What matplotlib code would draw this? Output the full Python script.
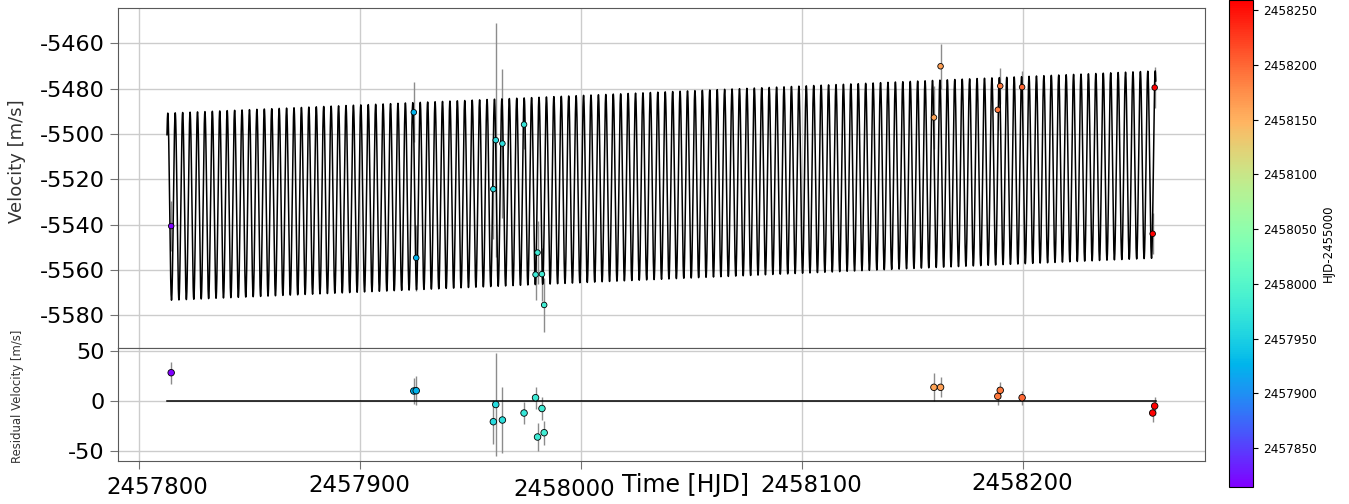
import matplotlib
matplotlib.use("Agg")
import matplotlib.pyplot as plt
import numpy as np
from matplotlib.ticker import FormatStrFormatter
from matplotlib.transforms import ScaledTranslation

plt.rcParams["font.family"] = ["DejaVu Sans"]
plt.rcParams["axes.unicode_minus"] = False

# observations (HJD, RV, error, residual)
hjd = [2457814.4, 2457924.2, 2457925.3, 2457960.2, 2457961.3, 2457964.3,
       2457974.1, 2457979.3, 2457980.2, 2457982.2, 2457983.2, 2458159.6,
       2458162.6, 2458188.5, 2458189.6, 2458199.5, 2458258.6, 2458259.5]
rv = [-5540.6, -5490.4, -5554.6, -5524.3, -5502.7, -5504.2,
      -5495.8, -5562.0, -5552.3, -5561.8, -5575.4, -5492.7,
      -5470.1, -5489.3, -5478.8, -5479.3, -5544.0, -5479.5]
rv_err = [11.0, 13.3, 14.5, 22.0, 51.7, 33.0,
          10.7, 11.0, 14.0, 11.7, 12.0, 14.0,
          10.0, 9.0, 8.0, 7.0, 9.0, 9.0]
resid = [28.3, 10.0, 10.3, -20.7, -3.5, -19.0,
         -12.0, 3.3, -36.0, -7.5, -31.7, 13.7,
         13.7, 4.7, 10.7, 3.3, -12.0, -5.0]

x_ticks = [2457800, 2457900, 2458000, 2458100, 2458200]
cbar_ticks = [2457850, 2457900, 2457950, 2458000, 2458050,
              2458100, 2458150, 2458200, 2458250]

# fitted model: circular orbit + linear trend
T_START, T_END = 2457812.5, 2458260.0
T_PEAK = 2457812.87
PERIOD = 3.36
K_AMP = 41.3
V0 = -5532.1
SLOPE = 0.0417

t_model = np.linspace(T_START, T_END, 12000)
v_model = V0 + SLOPE * (t_model - T_START) + K_AMP * np.cos(2 * np.pi * (t_model - T_PEAK) / PERIOD)

fig = plt.figure(figsize=(13.49, 5.04), dpi=100)
ax1 = fig.add_axes([0.0875, 0.3095, 0.8058, 0.6746])
ax2 = fig.add_axes([0.0875, 0.0853, 0.8058, 0.2242], sharex=ax1)
cax = fig.add_axes([0.911, 0.034, 0.0178, 0.966])

cmap = plt.get_cmap("rainbow")
vmin, vmax = min(hjd), max(hjd)

ax1.errorbar(hjd, rv, yerr=rv_err, fmt="none", ecolor="0.55", elinewidth=1, zorder=1)
ax1.plot(t_model, v_model, color="black", lw=1.1, zorder=2)
sc = ax1.scatter(hjd, rv, c=hjd, cmap=cmap, vmin=vmin, vmax=vmax, s=16,
                 edgecolors="black", linewidths=0.6, zorder=3)

ax2.errorbar(hjd, resid, yerr=rv_err, fmt="none", ecolor="0.55", elinewidth=1, zorder=1)
ax2.plot([T_START, T_END], [0, 0], color="black", lw=1.1, zorder=2)
ax2.scatter(hjd, resid, c=hjd, cmap=cmap, vmin=vmin, vmax=vmax, s=22,
            edgecolors="black", linewidths=0.6, zorder=3)

ax1.set_xlim(2457790.35, 2458282.3)
ax1.set_ylim(-5594.4, -5444.4)
ax2.set_ylim(-60, 53)
ax1.set_yticks(np.arange(-5580, -5459, 20))
ax2.set_yticks([-50, 0, 50])
ax2.set_xticks(x_ticks)
ax2.xaxis.set_major_formatter(FormatStrFormatter("%d"))

for ax in (ax1, ax2):
    ax.grid(True, color="#cccccc", lw=1)
    ax.set_axisbelow(True)
    ax.tick_params(labelsize=16, color="0.45", length=6)
    for sp in ax.spines.values():
        sp.set_color("0.35")
ax1.tick_params(axis="x", labelbottom=False, length=0)
ax2.tick_params(axis="x", labelsize=16.5)

# the x tick labels in the original sit a little off their ticks
label_shift = [(18, 2), (-1.5, 0), (-17, 4), (9, -0.5), (-1.5, -2.5)]
for tick, (dx, dy) in zip(ax2.xaxis.get_major_ticks(), label_shift):
    lab = tick.label1
    lab.set_transform(lab.get_transform() + ScaledTranslation(dx / 100, -dy / 100, fig.dpi_scale_trans))

ax1.set_ylabel("Velocity [m/s]", fontsize=13, color="#333333")
ax1.yaxis.set_label_coords(-0.0846, 0.55)
ax2.set_ylabel("Residual Velocity [m/s]", fontsize=8.4, color="#333333")
ax2.yaxis.set_label_coords(-0.0865, 0.569)
ax2.set_xlabel("Time [HJD]", fontsize=17)
ax2.xaxis.set_label_coords(0.5216, -0.106)

cbar = fig.colorbar(sc, cax=cax)
cbar.set_ticks(cbar_ticks)
cbar.ax.yaxis.set_major_formatter(FormatStrFormatter("%d"))
cbar.ax.tick_params(labelsize=8.7)
cbar.set_label("HJD-2455000", fontsize=8.5)

fig.savefig("out.png", dpi=100)
